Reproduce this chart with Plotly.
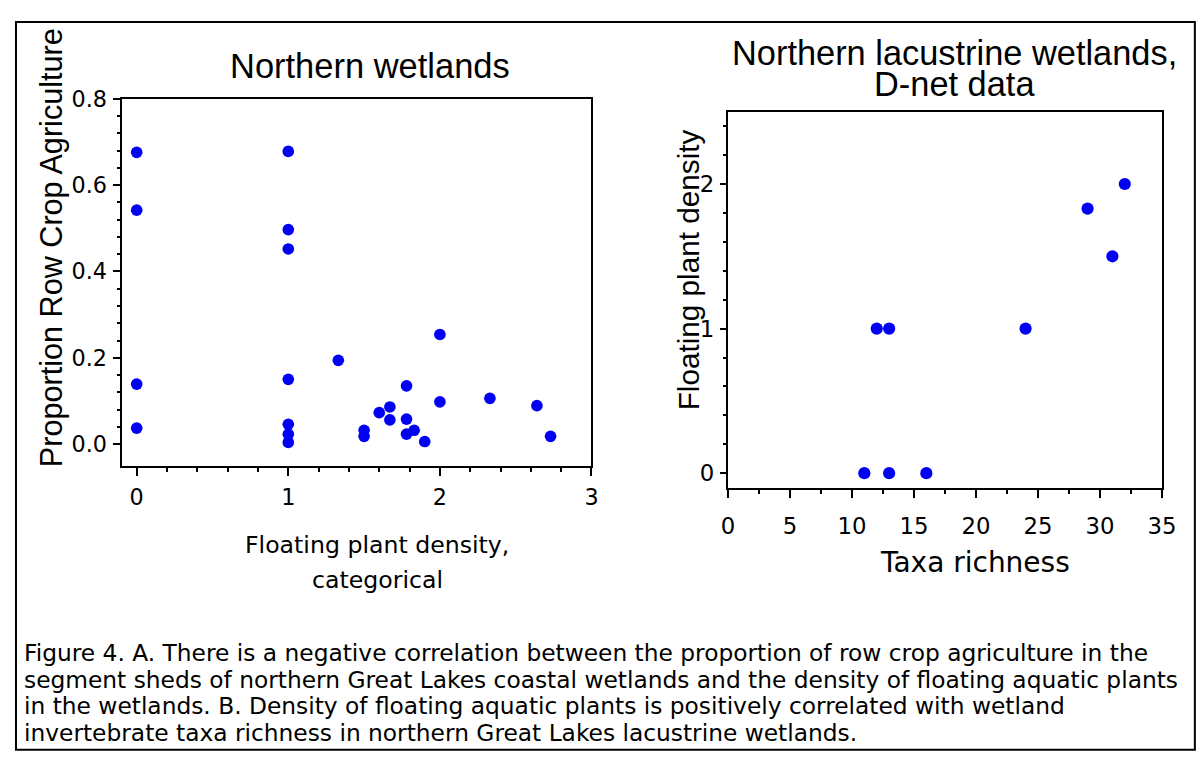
import plotly.graph_objects as go

W, H = 1204, 769
FONT = "Liberation Sans, Arial, sans-serif"
HFONT = "DejaVu Sans, Verdana, sans-serif"   # wide sans for the horizontally set texts
# The photographed page maps figure pixels to picture pixels as
# picture = K * figure + (BX, BY); positions below are given in picture pixels.
K, BX, BY = 0.986, 12.0, 21.0

# ---- Panel A: Northern wetlands ----
fpd_cat = [0, 0, 0, 0,
           1, 1, 1, 1, 1, 1, 1,
           1.33, 1.5, 1.5, 1.6, 1.67, 1.67,
           1.78, 1.78, 1.78, 1.83, 1.9,
           2, 2, 2.33, 2.64, 2.73]
row_crop = [0.676, 0.542, 0.139, 0.037,
            0.678, 0.497, 0.452, 0.150, 0.046, 0.023, 0.004,
            0.194, 0.032, 0.018, 0.073, 0.086, 0.056,
            0.135, 0.058, 0.023, 0.032, 0.006,
            0.254, 0.098, 0.106, 0.089, 0.018]
a_xticks = [0, 1, 2, 3]
a_yticks = [0.0, 0.2, 0.4, 0.6, 0.8]

# ---- Panel B: Northern lacustrine wetlands, D-net data ----
taxa_richness = [11, 12, 13, 13, 16, 24, 29, 31, 32]
float_density = [0, 1, 1, 0, 0, 1, 1.83, 1.5, 2]
b_xticks = [0, 5, 10, 15, 20, 25, 30, 35]
b_yticks = [0, 1, 2]

caption_lines = [
    "Figure 4. A. There is a negative correlation between the proportion of row crop agriculture in the",
    "segment sheds of northern Great Lakes coastal wetlands and the density of floating aquatic plants",
    "in the wetlands. B. Density of floating aquatic plants is positively correlated with wetland",
    "invertebrate taxa richness in northern Great Lakes lacustrine wetlands.",
]


def px(x):
    f = (x - BX) / K
    return min(max(f, 1), W - 1) / W


def py(y):
    f = (y - BY) / K
    return 1 - min(max(f, 1), H - 1) / H


def S(s):
    return s / K


BLUE = "#0000f5"

fig = go.Figure()
fig.add_trace(go.Scatter(x=fpd_cat, y=row_crop, mode="markers",
                         marker=dict(color=BLUE, size=S(11.5), line=dict(width=0)),
                         xaxis="x", yaxis="y", showlegend=False))
fig.add_trace(go.Scatter(x=taxa_richness, y=float_density, mode="markers",
                         marker=dict(color=BLUE, size=S(12), line=dict(width=0)),
                         xaxis="x2", yaxis="y2", showlegend=False))

axis_common = dict(showline=True, linecolor="black", linewidth=2, mirror=True,
                   ticks="outside", tickcolor="black", tickwidth=2,
                   showgrid=False, zeroline=False, fixedrange=True)

fig.update_layout(
    width=W, height=H, autosize=False,
    margin=dict(l=0, r=0, t=0, b=0),
    paper_bgcolor="white", plot_bgcolor="white",
    font=dict(family=FONT, color="black"),
    xaxis=dict(domain=[px(119), px(591)], range=[-0.1, 3],
               tickvals=a_xticks, ticktext=[str(v) for v in a_xticks],
               ticklen=8, tickfont=dict(size=S(22), family=HFONT), ticklabelstandoff=3,
               minor=dict(tickvals=[i * 0.2 for i in range(16)], ticklen=4,
                          ticks="outside", tickcolor="black", tickwidth=1.5),
               anchor="y", **axis_common),
    yaxis=dict(domain=[py(467), py(99)], range=[-0.05, 0.8],
               tickvals=a_yticks, ticktext=["%.1f" % v for v in a_yticks],
               ticklen=7, tickfont=dict(size=S(22), family=HFONT), ticklabelstandoff=1,
               minor=dict(tickvals=[i * 0.04 for i in range(21)], ticklen=3,
                          ticks="outside", tickcolor="black", tickwidth=1.5),
               anchor="x", **axis_common),
    xaxis2=dict(domain=[px(728), px(1164)], range=[0, 35],
                tickvals=b_xticks, ticktext=[str(v) for v in b_xticks],
                ticklen=8, tickfont=dict(size=S(22.5), family=HFONT), ticklabelstandoff=9,
                minor=dict(tickvals=[2.5 + 5 * i for i in range(7)], ticklen=4,
                           ticks="outside", tickcolor="black", tickwidth=1.5),
                anchor="y2", **axis_common),
    yaxis2=dict(domain=[py(489), py(112)], range=[-0.1, 2.5],
                tickvals=b_yticks, ticktext=[str(v) for v in b_yticks],
                ticklen=6, tickfont=dict(size=S(22.5), family=HFONT), ticklabelstandoff=1,
                minor=dict(tickvals=[round(0.2 * i, 2) for i in range(13)], ticklen=3,
                           ticks="outside", tickcolor="black", tickwidth=1.5),
                anchor="x2", **axis_common),
)

ann = []


def text(t, x, y, size, angle=0, xanchor="center", yanchor="middle", family=HFONT):
    ann.append(dict(text=t, x=px(x), y=py(y), xref="paper", yref="paper",
                    showarrow=False, textangle=angle, xanchor=xanchor,
                    yanchor=yanchor, font=dict(size=S(size), family=family, color="black")))


# titles
text("Northern wetlands", 369, 66, 34, family=FONT)
text("Northern lacustrine wetlands,", 956, 53, 33.9, family=FONT)
text("D-net data", 956, 84, 33.9, family=FONT)
# axis titles
text("Proportion Row Crop Agriculture", 48, 248, 30.2, angle=-90, family=FONT)
text("Floating plant density,", 376, 547, 23.3)
text("categorical", 376, 582, 23.3)
text("Floating plant density", 688, 271, 29.3, angle=-90, family=FONT)
text("Taxa richness", 976, 564, 27.6)
# caption
for i, line in enumerate(caption_lines):
    text(line, 19, 654 + 27 * i, 23, xanchor="left")

fig.update_layout(annotations=ann)

fig.add_shape(type="rect", xref="paper", yref="paper",
              x0=px(7), x1=px(1197), y0=py(752), y1=py(5),
              line=dict(color="black", width=2), fillcolor="rgba(0,0,0,0)")

fig.write_html("out.html")
